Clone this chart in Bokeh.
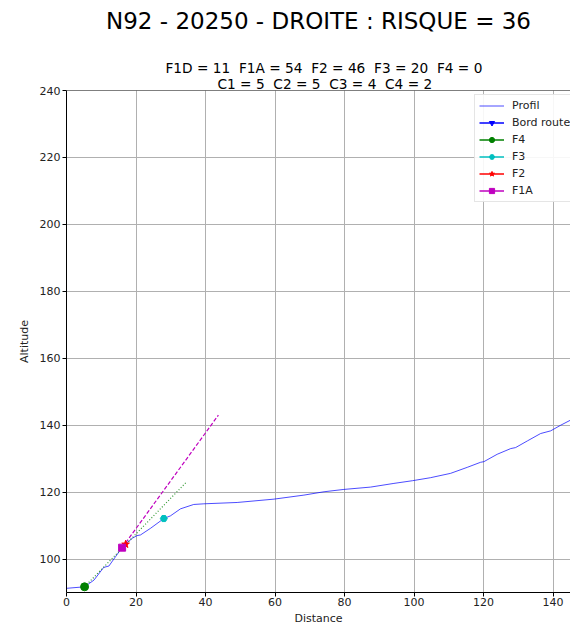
from bokeh.plotting import figure
from bokeh.models import (ColumnDataSource, Legend, LegendItem, Title, Span,
                          SingleIntervalTicker, Range1d)
from bokeh.embed import file_html
from bokeh.resources import INLINE

# ---- data ----
profil_x = [0, 5.2, 7.9, 10.7, 12.2, 14.1, 16.0, 17.0, 18.9, 20.3, 21.3, 24.2, 28.0,
            29.9, 32.8, 36.6, 39.5, 49.1, 59.7, 68.3, 74.1, 79.8, 87.5, 94.2, 99.5,
            104.7, 110.5, 115.3, 119.1, 120.1, 123.9, 127.8, 129.2, 132.6, 136.4,
            139.3, 142.2, 145.0, 147.0]
profil_y = [91.25, 91.7, 93.7, 97.5, 97.9, 100.7, 103.4, 104.4, 106.2, 107.0, 107.2,
            109.2, 112.1, 112.9, 115.0, 116.3, 116.5, 116.9, 117.9, 119.1, 120.1,
            120.8, 121.5, 122.6, 123.4, 124.3, 125.6, 127.4, 128.9, 129.1, 131.3,
            133.0, 133.3, 135.3, 137.5, 138.3, 140.0, 141.5, 142.4]

bord_x, bord_y = [float("nan")], [float("nan")]   # no visible "Bord route" points

f4_x, f4_y = [5.2], [91.7]
f3_x, f3_y = [28.0], [112.1]
f2_x, f2_y = [17.0], [104.4]
f1a_x, f1a_y = [16.0], [103.4]

f4_line_x, f4_line_y = [5.2, 34.5], [91.7, 123.0]
f1a_line_x, f1a_line_y = [16.0, 43.7], [103.4, 143.0]

x_ticks_interval = 20
y_ticks_interval = 20

title_main = "N92 - 20250 - DROITE : RISQUE = 36"
sub1 = "F1D = 11 \u00a0F1A = 54 \u00a0F2 = 46 \u00a0F3 = 20 \u00a0F4 = 0"
sub2 = "C1 = 5 \u00a0C2 = 5 \u00a0C3 = 4 \u00a0C4 = 2"

FONT = "DejaVu Sans"

p = figure(width=570, height=627, output_backend="svg", toolbar_location=None,
           x_range=Range1d(0, 145), y_range=Range1d(90, 240),
           min_border_left=66, min_border_right=0, min_border_top=90,
           min_border_bottom=34)
p.outline_line_color = None
p.background_fill_color = "white"
p.border_fill_color = "white"

# titles (first added = closest to frame)
p.add_layout(Title(text=sub2, align="left", offset=151, text_font=FONT,
                   text_font_size="13.7px", text_font_style="normal",
                   text_color="#000000", standoff=-3), "above")
p.add_layout(Title(text=sub1, align="left", offset=99, text_font=FONT,
                   text_font_size="13.7px", text_font_style="normal",
                   text_color="#000000", standoff=0), "above")
# blank spacer between the sub-titles and the main title
p.add_layout(Title(text="\u00a0", align="center", text_font=FONT,
                   text_font_size="1px", text_color="#ffffff", standoff=19), "above")
p.add_layout(Title(text=title_main, align="center", text_font=FONT,
                   text_font_size="23px", text_font_style="normal",
                   text_color="#000000", standoff=0, vertical_align="top"), "above")

# axes
for ax in (p.xaxis[0], p.yaxis[0]):
    ax.axis_line_color = "black"
    ax.axis_line_width = 1
    ax.major_tick_line_color = "black"
    ax.major_tick_out = 4
    ax.major_tick_in = 0
    ax.minor_tick_line_color = None
    ax.major_label_text_font = FONT
    ax.major_label_text_font_size = "11px"
    ax.major_label_text_color = "#222222"
    ax.axis_label_text_font = FONT
    ax.axis_label_text_font_size = "11px"
    ax.axis_label_text_font_style = "normal"
    ax.axis_label_text_color = "#222222"
p.xaxis.major_label_standoff = 1
p.xaxis.axis_label_standoff = 3
p.yaxis.major_label_standoff = 2
p.yaxis.axis_label_standoff = 6
p.xaxis.axis_label = "Distance"
p.yaxis.axis_label = "Altitude"
p.xaxis.ticker = SingleIntervalTicker(interval=x_ticks_interval)
p.yaxis.ticker = SingleIntervalTicker(interval=y_ticks_interval)

p.xgrid.grid_line_color = "#b0b0b0"
p.ygrid.grid_line_color = "#b0b0b0"
p.xgrid.ticker = SingleIntervalTicker(interval=x_ticks_interval)
p.ygrid.ticker = SingleIntervalTicker(interval=y_ticks_interval)

p.add_layout(Span(location=240, dimension="width", line_color="black", line_width=1))

# glyphs
r_prof = p.line(profil_x, profil_y, line_color="#0000ff", line_alpha=0.7, line_width=1)

bord = ColumnDataSource(data=dict(x=bord_x, y=bord_y))
r_bord_l = p.line("x", "y", source=bord, line_color="#0000ff", line_width=1.5)
r_bord_m = p.scatter("x", "y", source=bord, marker="inverted_triangle", size=7,
                     fill_color="#0000ff", line_color="#0000ff")

r_f4_line = p.line(f4_line_x, f4_line_y, line_color="#008000", line_dash="1 2",
                   line_width=1.2, line_alpha=0.8)
r_f1a_line = p.line(f1a_line_x, f1a_line_y, line_color="#bf00bf", line_dash="4 2",
                    line_width=1.2)

r_f4_l = p.line(f4_x, f4_y, line_color="#008000", line_width=1.5)
r_f4 = p.scatter(f4_x, f4_y, marker="circle", size=8, fill_color="#008000",
                 line_color="#008000")
r_f3_l = p.line(f3_x, f3_y, line_color="#00bfbf", line_width=1.5)
r_f3 = p.scatter(f3_x, f3_y, marker="hex", size=7, fill_color="#00bfbf",
                 line_color="#00bfbf")
r_f2_l = p.line(f2_x, f2_y, line_color="#ff0000", line_width=1.5)
r_f2 = p.scatter(f2_x, f2_y, marker="star", size=8, fill_color="#ff0000",
                 line_color="#ff0000")
r_f1a_l = p.line(f1a_x, f1a_y, line_color="#bf00bf", line_width=1.5)
r_f1a = p.scatter(f1a_x, f1a_y, marker="square", size=7, fill_color="#bf00bf",
                  line_color="#bf00bf")

legend = Legend(items=[
    LegendItem(label="Profil", renderers=[r_prof]),
    LegendItem(label="Bord route", renderers=[r_bord_l, r_bord_m]),
    LegendItem(label="F4", renderers=[r_f4_l, r_f4]),
    LegendItem(label="F3", renderers=[r_f3_l, r_f3]),
    LegendItem(label="F2", renderers=[r_f2_l, r_f2]),
    LegendItem(label="F1A", renderers=[r_f1a_l, r_f1a]),
], location=(408, 390), orientation="vertical")
legend.label_text_font = FONT
legend.label_text_font_size = "11px"
legend.label_text_color = "#222222"
legend.glyph_width = 25
legend.glyph_height = 13
legend.label_standoff = 8
legend.spacing = 4
legend.padding = 4
legend.margin = 0
legend.border_line_color = "#cccccc"
legend.border_line_width = 1
legend.background_fill_alpha = 0.9
p.add_layout(legend, "center")

open("out.html", "w").write(file_html(p, INLINE))
